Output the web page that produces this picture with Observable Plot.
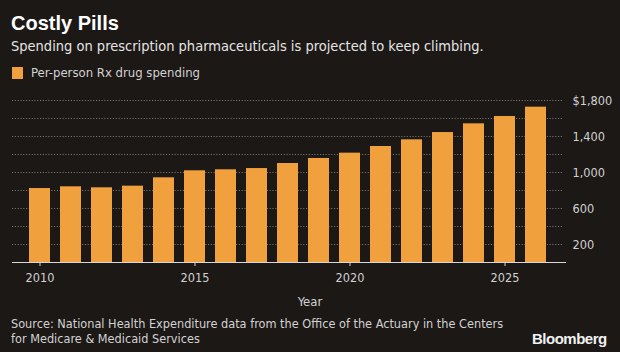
<!DOCTYPE html>
<html>
<head>
<meta charset="utf-8">
<script src="https://cdn.jsdelivr.net/npm/d3@7"></script>
<script src="https://cdn.jsdelivr.net/npm/@observablehq/plot@0.6"></script>
<style>
  html, body { margin: 0; padding: 0; background: #1c1816; }
  #wrap { position: relative; width: 620px; height: 352px; background: #1c1816; overflow: hidden;
          font-family: "DejaVu Sans Condensed", "DejaVu Sans", sans-serif; font-stretch: condensed; }
  .t { position: absolute; white-space: nowrap; }
  #title { left: 11px; top: 12px; font-size: 20px; font-weight: bold; color: #ffffff; font-family: "Liberation Sans", sans-serif; font-stretch: normal; }
  #subtitle { left: 11px; top: 38px; font-size: 14.5px; color: #e4e4e4; }
  #legend { left: 12px; top: 65px; font-size: 13px; color: #d2d2d2; display: flex; align-items: center; }
  #legend .sw { width: 11px; height: 12px; background: #f0a03c; margin-right: 8px; }
  #chart { position: absolute; left: 0; top: 88px; }
  #xlabel { left: 0; width: 620px; text-align: center; top: 294px; font-size: 13px; color: #d2d2d2; }
  #source { left: 11px; top: 316px; font-size: 12.6px; line-height: 15px; color: #d2d2d2; }
  #brand { left: 532px; top: 330px; font-size: 15px; font-weight: bold; color: #f2f2f2; font-family: "Liberation Sans", sans-serif; font-stretch: normal; letter-spacing: -0.5px; }
</style>
</head>
<body>
<div id="wrap">
  <div class="t" id="title">Costly Pills</div>
  <div class="t" id="subtitle">Spending on prescription pharmaceuticals is projected to keep climbing.</div>
  <div class="t" id="legend"><span class="sw"></span><span>Per-person Rx drug spending</span></div>
  <div id="chart"></div>
  <div class="t" id="xlabel">Year</div>
  <div class="t" id="source">Source: National Health Expenditure data from the Office of the Actuary in the Centers<br>for Medicare &amp; Medicaid Services</div>
  <div class="t" id="brand">Bloomberg</div>
</div>
<script>
const years = [2010, 2011, 2012, 2013, 2014, 2015, 2016, 2017, 2018, 2019, 2020, 2021, 2022, 2023, 2024, 2025, 2026];
const spending = [822, 841, 830, 848, 941, 1019, 1030, 1044, 1100, 1156, 1215, 1289, 1363, 1444, 1541, 1622, 1726];
const xTicks = [2010, 2015, 2020, 2025];
const yTicks = [200, 600, 1000, 1400, 1800];
const gridValues = [200, 400, 600, 800, 1000, 1200, 1400, 1600, 1800];

const data = years.map((y, i) => ({year: y, value: spending[i]}));

const chart = Plot.plot({
  width: 620,
  height: 222,
  marginTop: 12,
  marginBottom: 48,
  marginLeft: 12,
  marginRight: 57,
  style: {background: "transparent", color: "#cfcfcf", fontFamily: "'DejaVu Sans Condensed', 'DejaVu Sans', sans-serif", fontStretch: "condensed", fontSize: "12.6px"},
  x: {type: "band", domain: years, range: [15.2, 560.5], padding: 0.31},
  y: {domain: [0, 1800]},
  marks: [
    Plot.ruleY(gridValues, {stroke: "#8a8580", strokeDasharray: "1.2,1.6", strokeWidth: 1, strokeOpacity: 0.8}),
    Plot.barY(data, {x: "year", y: "value", fill: "#f0a03c"}),
    Plot.ruleY([0], {stroke: "#d8d8d8", strokeWidth: 1.2, insetRight: -3}),
    Plot.axisX({ticks: xTicks, tickSize: 4, tickPadding: 7, stroke: "#d8d8d8", fill: "#d2d2d2", label: null, tickFormat: d => String(d)}),
    Plot.axisY({anchor: "right", ticks: yTicks, tickSize: 0, tickPadding: 9, fill: "#d2d2d2", label: null,
      tickFormat: d => d === 1800 ? "$" + d3.format(",")(d) : (d >= 1000 ? d3.format(",")(d) : String(d))})
  ]
});
document.getElementById("chart").appendChild(chart);
</script>
</body>
</html>
